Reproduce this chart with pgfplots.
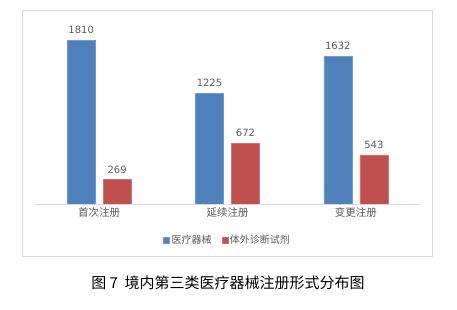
\documentclass[border=0pt]{standalone}
\usepackage{pgfplots}
\pgfplotsset{compat=1.18}
\usepackage{fontspec}
\setmainfont{DejaVu Sans}
\newfontfamily\cjk{Noto Sans CJK SC}
\definecolor{cblue}{HTML}{4F81BD}
\definecolor{cred}{HTML}{C0504D}
\definecolor{cgrid}{HTML}{D9D9D9}
\definecolor{ctext}{HTML}{595959}
\begin{document}
\begin{tikzpicture}[x=1pt,y=1pt]
\path[use as bounding box, fill=white] (0,0) rectangle (457,310);
\draw[cgrid, line width=0.8pt] (22,54) rectangle (432,300);
\begin{axis}[
  at={(35pt,106pt)}, anchor=south west,
  scale only axis, width=385pt, height=180.7pt,
  ybar=8pt, bar width=28pt,
  xmin=-0.5, xmax=2.5, ymin=0, ymax=2000,
  xtick=data, xticklabels={{\cjk 首次注册},{\cjk 延续注册},{\cjk 变更注册}},
  xticklabel style={font=\fontsize{10.5}{12}\selectfont, text=ctext},
  major tick length=0pt,
  ytick={0,200,...,2000}, yticklabels={},
  ymajorgrids, grid style={cgrid, line width=0.8pt},
  axis x line*=bottom, axis y line=none,
  x axis line style={cgrid, line width=0.8pt, -},
  nodes near coords,
  /pgf/number format/.cd, 1000 sep={}, assume math mode=true, /pgfplots/.cd,
  nodes near coords style={font=\fontsize{10}{12}\selectfont, text=ctext, yshift=3pt},
  legend style={at={(0.5,-0.2)}, anchor=center, draw=none, fill=none,
    font=\fontsize{10}{12}\selectfont\cjk, text=ctext, legend columns=2,
    /tikz/every even column/.append style={column sep=8pt}},
  legend image code/.code={\fill[#1] (0pt,-3pt) rectangle (6pt,3pt);},
]
\addplot[fill=cblue, draw=cblue!80!white] coordinates {(0,1810) (1,1225) (2,1632)};
\addplot[fill=cred, draw=cred!80!white] coordinates {(0,269) (1,672) (2,543)};
\legend{医疗器械,体外诊断试剂}
\end{axis}
\node[font=\fontsize{15}{18}\selectfont\cjk, anchor=center] at (228,27) {图 7\ \ 境内第三类医疗器械注册形式分布图};
\end{tikzpicture}
\end{document}
